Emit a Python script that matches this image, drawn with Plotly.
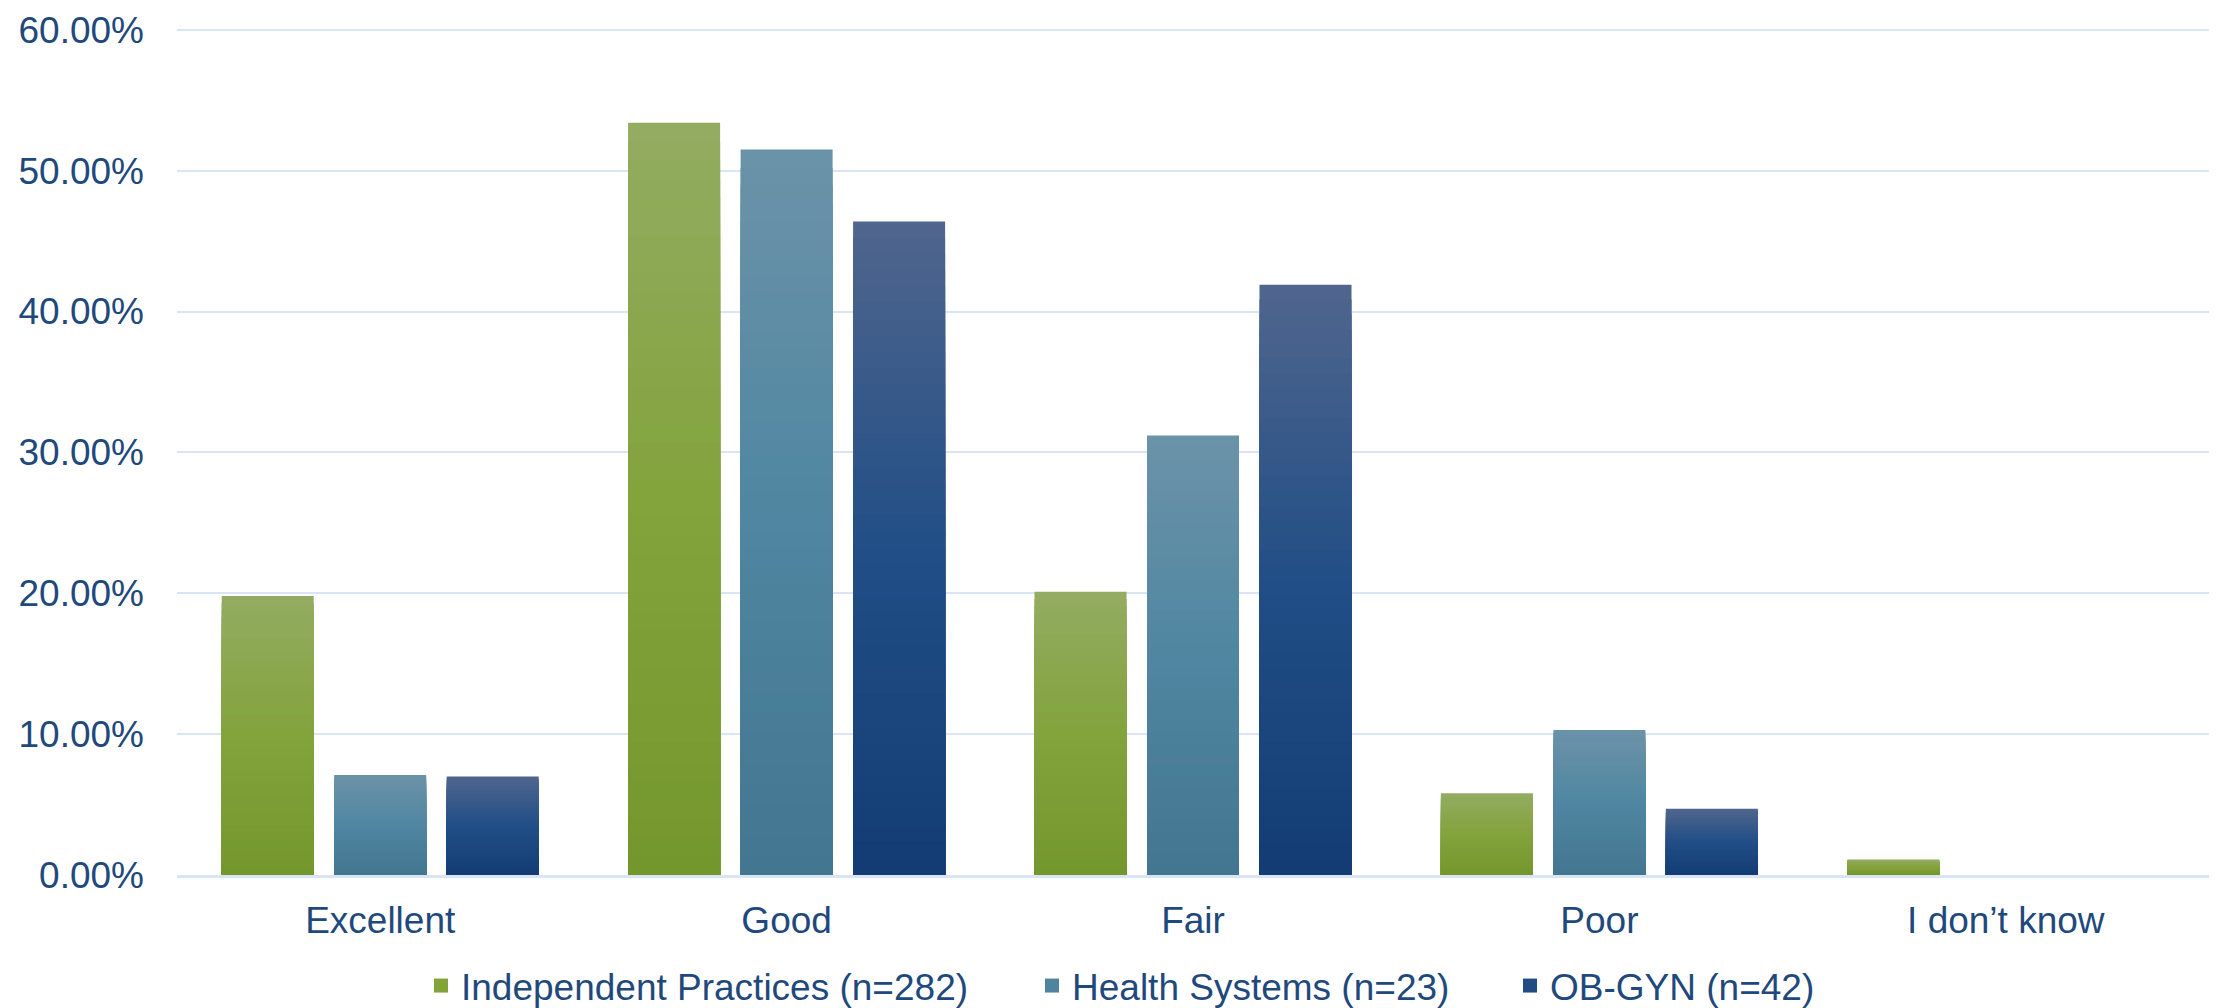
import plotly.graph_objects as go

# Survey responses by rating category (share of respondents)
categories = ["Excellent", "Good", "Fair", "Poor", "I don’t know"]
independent_practices = [0.198, 0.534, 0.201, 0.058, 0.011]
health_systems = [0.071, 0.515, 0.312, 0.103, 0.0]
ob_gyn = [0.070, 0.464, 0.419, 0.047, 0.0]
series_names = ["Independent Practices (n=282)", "Health Systems (n=23)", "OB-GYN (n=42)"]
y_ticks = [0.0, 0.1, 0.2, 0.3, 0.4, 0.5, 0.6]

# Vertical gradient stops per series: bottom, middle, top (RGB)
gradients = [
    [(116, 151, 45), (131, 163, 60), (147, 172, 98)],
    [(67, 118, 144), (80, 134, 161), (107, 147, 169)],
    [(19, 60, 116), (33, 78, 134), (80, 102, 142)],
]

TEXT = "#1f497d"
GRID = "#d9e4f5"
FONT = "Liberation Sans, Arial, sans-serif"
STEPS = 40
BAR_W = 0.2264
SLOT = 0.2768


def shade(stops, t):
    """Linear colour between the three stops, t=0 bottom, t=1 top."""
    if t <= 0.5:
        a, b, u = stops[0], stops[1], t / 0.5
    else:
        a, b, u = stops[1], stops[2], (t - 0.5) / 0.5
    r, g, bl = (round(a[j] + (b[j] - a[j]) * u) for j in range(3))
    return f"rgb({r},{g},{bl})"


fig = go.Figure()
all_series = [independent_practices, health_systems, ob_gyn]
legend_ids = ["legend", "legend2", "legend3"]

for i, values in enumerate(all_series):
    offset = -BAR_W / 2 + (i - 1) * SLOT
    # Each bar is painted as nested bars of decreasing height, so the
    # colour shifts from light at the top to dark at the bottom.
    for k in range(STEPS):
        frac = (STEPS - k) / STEPS
        fig.add_trace(go.Bar(
            x=categories,
            y=[v * frac for v in values],
            width=BAR_W,
            offset=offset,
            marker=dict(color=shade(gradients[i], (STEPS - k - 0.5) / STEPS),
                        line=dict(width=0)),
            name=series_names[i],
            showlegend=False,
            hoverinfo="skip",
        ))
    # Legend key: a square swatch in the series' mid colour
    fig.add_trace(go.Scatter(
        x=[None], y=[None],
        mode="markers",
        marker=dict(symbol="square", size=14, color=shade(gradients[i], 0.45),
                    line=dict(width=0)),
        name=series_names[i],
        legend=legend_ids[i],
        showlegend=True,
        hoverinfo="skip",
    ))

legend_common = dict(
    orientation="h",
    xref="container", yref="container",
    yanchor="middle", xanchor="left",
    y=1 - 986 / 1008,
    bgcolor="rgba(0,0,0,0)",
    font=dict(family=FONT, size=37, color=TEXT),
    itemclick=False, itemdoubleclick=False,
)

fig.update_layout(
    width=2219, height=1008,
    barmode="overlay",
    plot_bgcolor="white", paper_bgcolor="white",
    margin=dict(l=177, r=10, t=23, b=133),
    font=dict(family=FONT, size=37, color=TEXT),
    legend=dict(legend_common, x=421 / 2219),
    legend2=dict(legend_common, x=1032 / 2219),
    legend3=dict(legend_common, x=1510 / 2219),
    xaxis=dict(
        type="category",
        categoryorder="array", categoryarray=categories,
        range=[-0.5, 4.5],
        showgrid=False,
        showline=True, linecolor=GRID, linewidth=3,
        layer="above traces",
        ticks="",
        tickfont=dict(family=FONT, size=37, color=TEXT),
        ticklabelstandoff=11,
    ),
    yaxis=dict(
        range=[0, 0.602],
        tickvals=y_ticks,
        tickformat=".2%",
        showgrid=True, gridcolor=GRID, gridwidth=2,
        zeroline=False,
        showline=False,
        ticks="",
        tickfont=dict(family=FONT, size=37, color=TEXT),
        ticklabelstandoff=32,
    ),
)

fig.write_html("out.html")
